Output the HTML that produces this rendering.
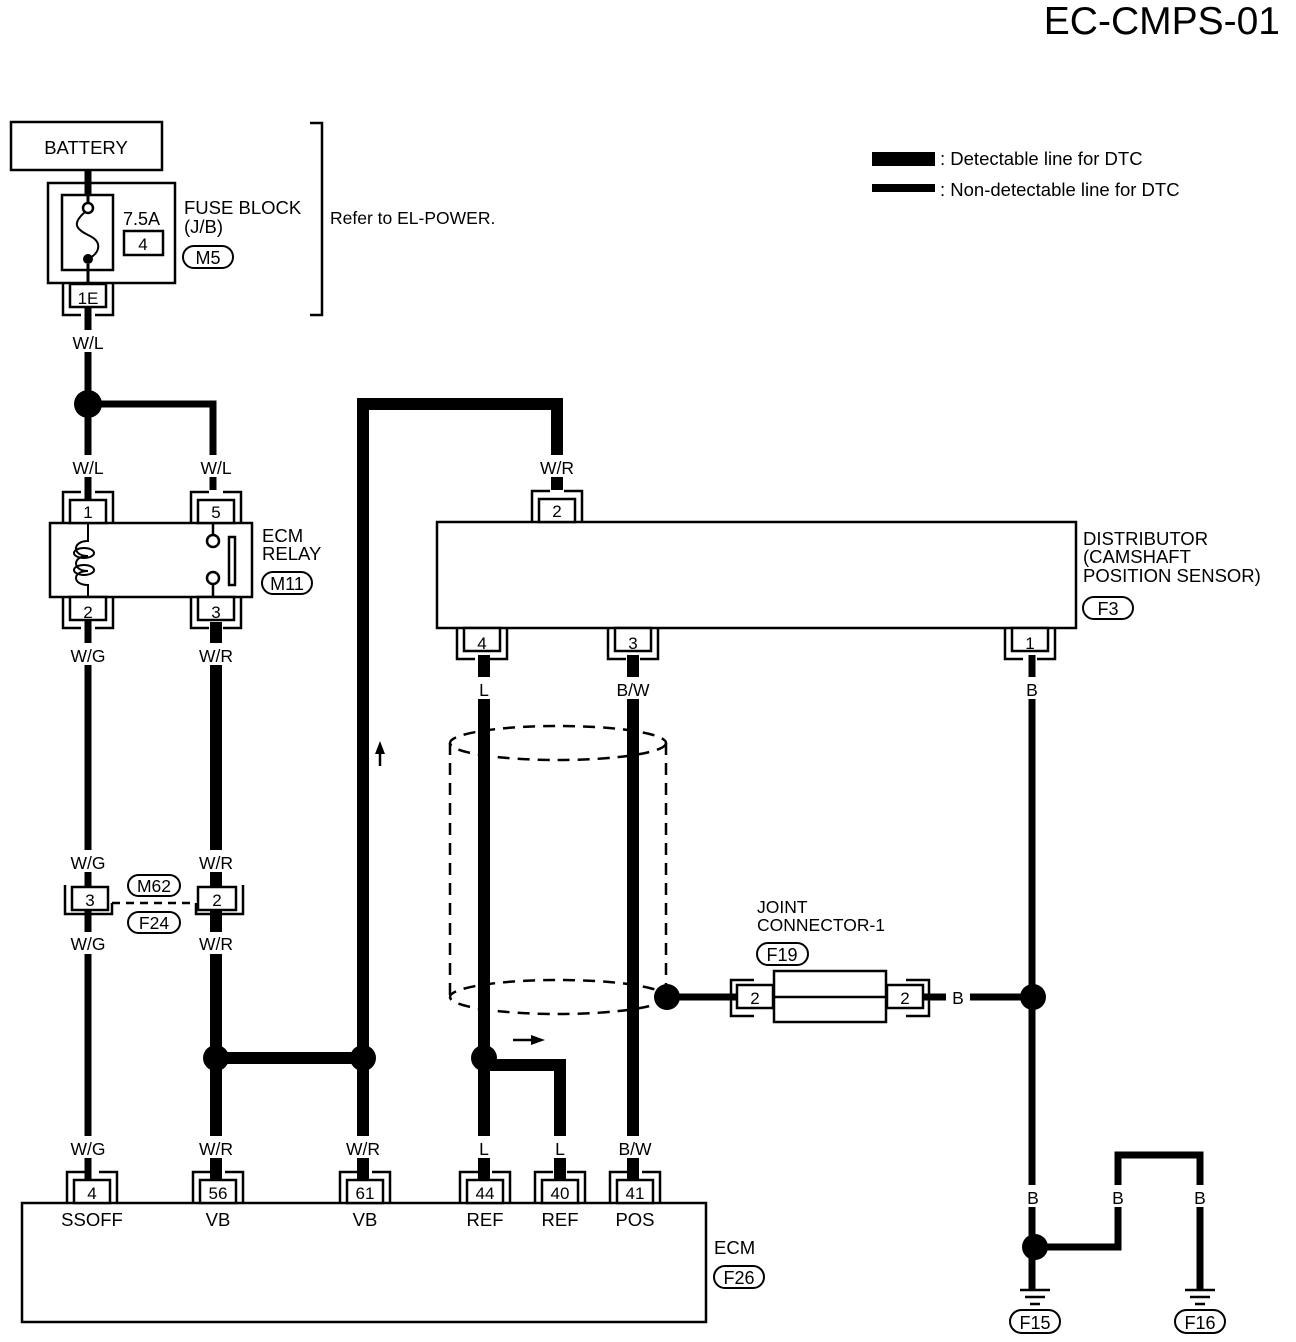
<!DOCTYPE html>
<html><head><meta charset="utf-8"><style>
html,body{margin:0;padding:0;background:#fff;}
svg{display:block;font-family:"Liberation Sans",Arial,sans-serif;}
text{fill:#000;}
</style></head><body>
<svg width="1296" height="1342" viewBox="0 0 1296 1342" xmlns="http://www.w3.org/2000/svg">
<defs>
<g id="ct"><path d="M-25,0 V-31 H-7 M7,-31 H25 V0" fill="none" stroke="#000" stroke-width="2.5"/><rect x="-18" y="-23" width="36" height="23" fill="#fff" stroke="#000" stroke-width="2.5"/></g>
<g id="cb"><path d="M-25,0 V31 H-7 M7,31 H25 V0" fill="none" stroke="#000" stroke-width="2.5"/><rect x="-18" y="0" width="36" height="23" fill="#fff" stroke="#000" stroke-width="2.5"/></g>
</defs>
<rect width="1296" height="1342" fill="#fff"/>
<text x="1280" y="34" font-size="39" text-anchor="end">EC-CMPS-01</text>

<!-- legend -->
<rect x="872" y="152" width="63" height="14" fill="#000"/>
<rect x="872" y="184" width="63" height="8" fill="#000"/>
<text x="940" y="165" font-size="18.5">: Detectable line for DTC</text>
<text x="940" y="196" font-size="18.5">: Non-detectable line for DTC</text>

<g stroke="#000" fill="none" stroke-linecap="butt">
<g stroke-width="7">
<path d="M88,170 V196"/>
<path d="M88,307 V1180"/>
<path d="M88,404 H213 V490"/>
<path d="M1032,655 V1290"/>
<path d="M667,997 H737"/>
<path d="M924,997 H1032"/>
<path d="M1035,1247 H1118 V1155 H1200 V1290"/>
</g>
<g stroke-width="12">
<path d="M216,622 V1180"/>
<path d="M216,1058 H363"/>
<path d="M363,1180 V404 H557 V490"/>
<path d="M484,655 V1180"/>
<path d="M484,1065 H560 V1180"/>
<path d="M633,655 V1180"/>
</g>
</g>

<g fill="#fff">
<rect x="66" y="330" width="44" height="22"/>
<rect x="66" y="455" width="44" height="22"/><rect x="192" y="455" width="48" height="22"/>
<rect x="533" y="455" width="48" height="22"/>
<rect x="64" y="643" width="50" height="22"/><rect x="192" y="643" width="48" height="22"/>
<rect x="64" y="850" width="50" height="22"/><rect x="192" y="850" width="48" height="22"/>
<rect x="64" y="932" width="50" height="22"/><rect x="192" y="932" width="48" height="22"/>
<rect x="64" y="1136" width="50" height="22"/><rect x="192" y="1136" width="48" height="22"/>
<rect x="339" y="1136" width="48" height="22"/><rect x="474" y="1136" width="20" height="22"/>
<rect x="550" y="1136" width="20" height="22"/><rect x="610" y="1136" width="48" height="22"/>
<rect x="472" y="677" width="22" height="22"/><rect x="609" y="677" width="48" height="22"/>
<rect x="1020" y="677" width="24" height="22"/>
<rect x="946" y="985" width="24" height="22"/>
<rect x="1020" y="1185" width="24" height="22"/><rect x="1106" y="1185" width="24" height="22"/><rect x="1188" y="1185" width="24" height="22"/>
</g>
<g font-size="17.5" text-anchor="middle">
<text x="88" y="349">W/L</text>
<text x="88" y="474">W/L</text><text x="216" y="474">W/L</text>
<text x="557" y="474">W/R</text>
<text x="88" y="662">W/G</text><text x="216" y="662">W/R</text>
<text x="88" y="869">W/G</text><text x="216" y="869">W/R</text>
<text x="88" y="950">W/G</text><text x="216" y="950">W/R</text>
<text x="88" y="1155">W/G</text><text x="216" y="1155">W/R</text>
<text x="363" y="1155">W/R</text><text x="484" y="1155">L</text>
<text x="560" y="1155">L</text><text x="635" y="1155">B/W</text>
<text x="484" y="696">L</text><text x="633" y="696">B/W</text>
<text x="1032" y="696">B</text>
<text x="958" y="1004">B</text>
<text x="1033" y="1204">B</text><text x="1118" y="1204">B</text><text x="1200" y="1204">B</text>
</g>

<rect x="11" y="122" width="151" height="48" fill="#fff" stroke="#000" stroke-width="2.5"/>
<text x="86" y="154" font-size="18.5" text-anchor="middle">BATTERY</text>
<rect x="48" y="183" width="127" height="100" fill="none" stroke="#000" stroke-width="2.5"/>
<rect x="62" y="195" width="51" height="75" fill="none" stroke="#000" stroke-width="2.5"/>
<path d="M88,196 V203 M88,264 V283" stroke="#000" stroke-width="3"/>
<circle cx="88" cy="208" r="5" fill="#fff" stroke="#000" stroke-width="2.5"/>
<path d="M85,212 C70,225 78,230 90,236 C102,242 100,252 90,258" fill="none" stroke="#000" stroke-width="2"/>
<circle cx="88" cy="259" r="5" fill="#000"/>
<text x="123" y="225" font-size="18">7.5A</text>
<rect x="124" y="231" width="39" height="24" fill="none" stroke="#000" stroke-width="2.5"/>
<text x="143" y="250" font-size="17" text-anchor="middle">4</text>
<text x="184" y="214" font-size="18.5">FUSE BLOCK</text>
<text x="184" y="233" font-size="18.5">(J/B)</text>
<rect x="183" y="246" width="50" height="22" rx="11" fill="none" stroke="#000" stroke-width="2"/>
<text x="208" y="264" font-size="18" text-anchor="middle">M5</text>
<use href="#cb" x="88" y="284"/>
<text x="88" y="304" font-size="17" text-anchor="middle">1E</text>
<path d="M310,123 H322 V315 H310" fill="none" stroke="#000" stroke-width="2.5"/>
<text x="330" y="224" font-size="17.5">Refer to EL-POWER.</text>

<circle cx="88" cy="404" r="14" fill="#000"/>

<rect x="50" y="523" width="202" height="74" fill="#fff" stroke="#000" stroke-width="2.5"/>
<use href="#ct" x="88" y="523"/><text x="88" y="518" font-size="17" text-anchor="middle">1</text>
<use href="#ct" x="216" y="523"/><text x="216" y="518" font-size="17" text-anchor="middle">5</text>
<use href="#cb" x="88" y="597"/><text x="88" y="618" font-size="17" text-anchor="middle">2</text>
<use href="#cb" x="216" y="597"/><text x="216" y="618" font-size="17" text-anchor="middle">3</text>
<path d="M88,523 V541 C72,541 72,556 88,556 C72,556 72,571 88,571 C72,571 72,585 88,585 V597" fill="none" stroke="#000" stroke-width="2"/>
<ellipse cx="84" cy="553" rx="10" ry="5" fill="none" stroke="#000" stroke-width="2"/>
<ellipse cx="84" cy="570" rx="10" ry="5" fill="none" stroke="#000" stroke-width="2"/>
<path d="M213,523 V534 M213,585 V597" stroke="#000" stroke-width="2.5"/>
<circle cx="213" cy="541" r="6" fill="#fff" stroke="#000" stroke-width="2.5"/>
<circle cx="213" cy="578" r="6" fill="#fff" stroke="#000" stroke-width="2.5"/>
<rect x="229" y="537" width="6" height="48" fill="none" stroke="#000" stroke-width="2.5"/>
<text x="262" y="542" font-size="18.5">ECM</text>
<text x="262" y="560" font-size="18.5">RELAY</text>
<rect x="262" y="572" width="50" height="22" rx="11" fill="none" stroke="#000" stroke-width="2"/>
<text x="287" y="590" font-size="18" text-anchor="middle">M11</text>

<path d="M112,903 H196" stroke="#000" stroke-width="2.5" stroke-dasharray="8,6"/>
<path d="M65,885 V914 H112 V903" fill="none" stroke="#000" stroke-width="2.5"/>
<rect x="72" y="887" width="36" height="23" fill="#fff" stroke="#000" stroke-width="2.5"/>
<text x="90" y="906" font-size="17" text-anchor="middle">3</text>
<path d="M243,885 V914 H196 V903" fill="none" stroke="#000" stroke-width="2.5"/>
<rect x="198" y="887" width="38" height="23" fill="#fff" stroke="#000" stroke-width="2.5"/>
<text x="217" y="906" font-size="17" text-anchor="middle">2</text>
<rect x="128" y="875" width="52" height="21" rx="10.5" fill="#fff" stroke="#000" stroke-width="2"/>
<text x="154" y="892" font-size="17.5" text-anchor="middle">M62</text>
<rect x="128" y="912" width="52" height="21" rx="10.5" fill="#fff" stroke="#000" stroke-width="2"/>
<text x="154" y="929" font-size="17.5" text-anchor="middle">F24</text>

<path d="M380,766 V752" stroke="#000" stroke-width="2.5"/><path d="M375,754 L380,741 L385,754 Z" fill="#000"/>
<path d="M513,1040 H533" stroke="#000" stroke-width="2.5"/><path d="M531,1035 L545,1040 L531,1045 Z" fill="#000"/>

<rect x="437" y="522" width="639" height="106" fill="#fff" stroke="#000" stroke-width="2.5"/>
<use href="#ct" x="557" y="522"/><text x="557" y="517" font-size="17" text-anchor="middle">2</text>
<use href="#cb" x="482" y="628"/><text x="482" y="649" font-size="17" text-anchor="middle">4</text>
<use href="#cb" x="633" y="628"/><text x="633" y="649" font-size="17" text-anchor="middle">3</text>
<use href="#cb" x="1030" y="628"/><text x="1030" y="649" font-size="17" text-anchor="middle">1</text>
<text x="1083" y="545" font-size="18.5">DISTRIBUTOR</text>
<text x="1083" y="563" font-size="18.5">(CAMSHAFT</text>
<text x="1083" y="582" font-size="18.5"> POSITION SENSOR)</text>
<rect x="1083" y="597" width="50" height="22" rx="11" fill="none" stroke="#000" stroke-width="2"/>
<text x="1108" y="615" font-size="18" text-anchor="middle">F3</text>

<g fill="none" stroke="#000" stroke-width="2.5" stroke-dasharray="12,8">
<ellipse cx="558" cy="743" rx="108" ry="17"/>
<ellipse cx="558" cy="997" rx="108" ry="17"/>
<path d="M450,743 V997 M666,743 V985"/>
</g>
<path d="M484,730 V1000 M633,730 V1000" stroke="#000" stroke-width="12"/>

<g fill="#000">
<circle cx="216" cy="1058" r="13"/>
<circle cx="363" cy="1058" r="13"/>
<circle cx="484" cy="1058" r="13"/>
<circle cx="667" cy="997" r="13"/>
<circle cx="1033" cy="997" r="13"/>
<circle cx="1035" cy="1247" r="13"/>
</g>

<text x="757" y="913" font-size="17.5">JOINT</text>
<text x="757" y="931" font-size="17.5">CONNECTOR-1</text>
<rect x="757" y="943" width="51" height="22" rx="11" fill="none" stroke="#000" stroke-width="2"/>
<text x="782" y="961" font-size="18" text-anchor="middle">F19</text>
<path d="M754,980 H731 V1016 H754" fill="none" stroke="#000" stroke-width="2.5"/>
<rect x="737" y="985" width="36" height="23" fill="#fff" stroke="#000" stroke-width="2.5"/>
<text x="755" y="1004" font-size="17" text-anchor="middle">2</text>
<rect x="774" y="971" width="112" height="51" fill="#fff" stroke="#000" stroke-width="2.5"/>
<path d="M774,997 H886" stroke="#000" stroke-width="2.5"/>
<path d="M906,980 H929 V1016 H906" fill="none" stroke="#000" stroke-width="2.5"/>
<rect x="887" y="985" width="36" height="23" fill="#fff" stroke="#000" stroke-width="2.5"/>
<text x="905" y="1004" font-size="17" text-anchor="middle">2</text>

<g stroke="#000" stroke-width="2.5">
<path d="M1020,1290 H1050 M1025,1297 H1045 M1030,1304 H1040"/>
<path d="M1185,1290 H1215 M1190,1297 H1210 M1195,1304 H1205"/>
</g>
<rect x="1010" y="1310" width="50" height="23" rx="11.5" fill="none" stroke="#000" stroke-width="2"/>
<text x="1035" y="1329" font-size="18" text-anchor="middle">F15</text>
<rect x="1175" y="1310" width="50" height="23" rx="11.5" fill="none" stroke="#000" stroke-width="2"/>
<text x="1200" y="1329" font-size="18" text-anchor="middle">F16</text>

<rect x="22" y="1203" width="684" height="119" fill="#fff" stroke="#000" stroke-width="2.5"/>
<use href="#ct" x="92" y="1203"/><text x="92" y="1199" font-size="17" text-anchor="middle">4</text>
<use href="#ct" x="218" y="1203"/><text x="218" y="1199" font-size="17" text-anchor="middle">56</text>
<use href="#ct" x="365" y="1203"/><text x="365" y="1199" font-size="17" text-anchor="middle">61</text>
<use href="#ct" x="485" y="1203"/><text x="485" y="1199" font-size="17" text-anchor="middle">44</text>
<use href="#ct" x="560" y="1203"/><text x="560" y="1199" font-size="17" text-anchor="middle">40</text>
<use href="#ct" x="635" y="1203"/><text x="635" y="1199" font-size="17" text-anchor="middle">41</text>
<g font-size="18.5" text-anchor="middle">
<text x="92" y="1226">SSOFF</text><text x="218" y="1226">VB</text><text x="365" y="1226">VB</text>
<text x="485" y="1226">REF</text><text x="560" y="1226">REF</text><text x="635" y="1226">POS</text>
</g>
<text x="714" y="1254" font-size="18.5">ECM</text>
<rect x="714" y="1266" width="50" height="22" rx="11" fill="none" stroke="#000" stroke-width="2"/>
<text x="739" y="1284" font-size="18" text-anchor="middle">F26</text>
</svg>
</body></html>
